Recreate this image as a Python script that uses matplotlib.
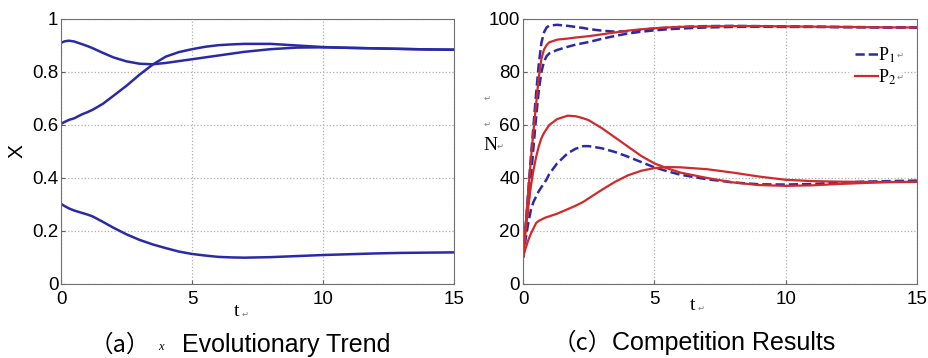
import numpy as np
import matplotlib
matplotlib.use("Agg")
import matplotlib.pyplot as plt

plt.rcParams["font.family"] = ["Liberation Sans", "DejaVu Sans"]
plt.rcParams["mathtext.fontset"] = "stix"

# panel (a): x evolutionary trend, three initial values
ta = [0, 0.15, 0.3, 0.5, 0.8, 1.0, 1.2, 1.6, 2.0, 2.5, 3.0, 3.5, 4.0, 4.5,
      5, 5.5, 6, 6.5, 7, 8, 9, 10, 11, 12, 13, 14, 15]
xa1 = [.910, .916, .918, .915, .905, .898, .890, .872, .855, .840, .831, .829, .834, .841,
       .848, .855, .862, .869, .876, .886, .892, .893, .891, .889, .887, .885, .884]
xa2 = [.604, .612, .619, .625, .640, .648, .657, .680, .710, .748, .790, .828, .858, .875,
       .886, .895, .901, .904, .906, .906, .900, .894, .891, .889, .887, .885, .884]
xa3 = [.302, .293, .285, .277, .268, .262, .255, .234, .212, .187, .166, .149, .135, .122,
       .113, .107, .102, .100, .099, .101, .105, .109, .112, .115, .117, .118, .119]

# panel (c): competition results, P1 (dashed blue) and P2 (red)
tc = [0, 0.1, 0.2, 0.3, 0.4, 0.5, 0.6, 0.7, 0.8, 0.9, 1.0, 1.3, 1.7, 2.0, 2.3, 2.5,
      3, 3.5, 4, 4.5, 5, 5.5, 6, 7, 8, 9, 10, 11, 12, 13, 14, 15]
p1_a = [10, 22, 35, 48, 60, 72, 83, 91, 95, 96.8, 97.5, 97.8, 97.4, 97, 96.6, 96.2,
        95.6, 95.2, 95.4, 95.9, 96.4, 96.7, 97, 97.3, 97.4, 97.3, 97.2, 97.1, 97, 96.9, 96.8, 96.8]
p1_b = [10, 20, 30, 40, 52, 63, 73, 80, 84, 86, 87, 88.3, 89.5, 90.3, 90.9, 91.3,
        92.5, 93.6, 94.5, 95.2, 95.7, 96.1, 96.4, 96.8, 97, 97.1, 97, 97, 96.9, 96.9, 96.8, 96.8]
p1_c = [10, 17, 23, 28, 31, 33, 35, 36.5, 38, 39.5, 41.5, 45.5, 49.3, 51, 52, 52,
        51.2, 49.8, 48, 46, 44, 42.5, 41.2, 39.5, 38.3, 37.6, 37.5, 37.7, 38.2, 38.6, 38.8, 39]
p2_a = [10, 22, 35, 47, 58, 68, 78, 85, 88.5, 90.2, 91.2, 92.2, 92.6, 93, 93.3, 93.5,
        94.2, 94.9, 95.6, 96.1, 96.5, 96.8, 97, 97.2, 97.3, 97.3, 97.2, 97.1, 97, 96.9, 96.8, 96.8]
p2_b = [10, 20, 29, 37, 43, 48, 52, 55, 57, 58.5, 60, 62.2, 63.5, 63.3, 62.5, 61.8,
        58.8, 55.3, 51.8, 48.3, 45.5, 43.6, 42, 40, 38.3, 37.3, 37, 37.2, 37.7, 38.1, 38.4, 38.5]
p2_c = [10, 13.5, 16.5, 19, 21, 23, 23.8, 24.3, 24.8, 25.2, 25.5, 26.5, 28.2, 29.5, 31, 32.3,
        35.5, 38.5, 41, 42.7, 43.7, 44.1, 44, 43.3, 42, 40.5, 39.3, 38.8, 38.6, 38.5, 38.5, 38.5]

blue = "#2a2aa8"
red = "#d02a2a"
grid_kw = dict(color="#b0b0b0", linestyle=":", linewidth=0.9)

fig = plt.figure(figsize=(9.29, 3.58), dpi=100)
ax1 = fig.add_axes([0.0657, 0.207, 0.423, 0.740])
ax2 = fig.add_axes([0.563, 0.207, 0.424, 0.740])

for y in (xa1, xa2, xa3):
    ax1.plot(ta, y, color=blue, linewidth=1.8)

ax1.set_xlim(0, 15)
ax1.set_ylim(0, 1)
ax1.set_xticks([0, 5, 10, 15])
ax1.set_yticks([0, 0.2, 0.4, 0.6, 0.8, 1])
ax1.set_yticklabels(["0", "0.2", "0.4", "0.6", "0.8", "1"])
ax1.set_ylabel("X", fontsize=15, labelpad=4)

ax2.plot(tc, p1_a, color=blue, linestyle="--", linewidth=1.8, label="P$_1$")
ax2.plot(tc, p1_b, color=blue, linestyle="--", linewidth=1.8)
ax2.plot(tc, p1_c, color=blue, linestyle="--", linewidth=1.8)
ax2.plot(tc, p2_a, color=red, linewidth=1.6, label="P$_2$")
ax2.plot(tc, p2_b, color=red, linewidth=1.6)
ax2.plot(tc, p2_c, color=red, linewidth=1.6)

ax2.set_xlim(0, 15)
ax2.set_ylim(0, 100)
ax2.set_xticks([0, 5, 10, 15])
ax2.set_yticks([0, 20, 40, 60, 80, 100])

for ax in (ax1, ax2):
    ax.grid(True, **grid_kw)
    ax.tick_params(direction="in", length=3, labelsize=13.5, color="#606060")
    ax.tick_params(axis="x", pad=5)
    ax.tick_params(axis="y", pad=2)
    for s in ax.spines.values():
        s.set_color("#707070")
        s.set_linewidth(0.8)

leg = ax2.legend(loc="upper right", bbox_to_anchor=(0.985, 0.955), frameon=True,
                 handlelength=1.3, handletextpad=0.0, borderpad=0.3,
                 labelspacing=0.15, prop={"family": "Liberation Serif", "size": 13})
leg.get_frame().set_edgecolor("none")
leg.get_frame().set_facecolor("white")

# stray text labels placed like in the source figure
serif = ["Liberation Serif", "DejaVu Sans"]
ret = dict(fontsize=6, color="#808080", ha="center", va="center", family="DejaVu Sans")
fig.text(237 / 929, 1 - 312 / 358, "t", fontsize=14, family=serif, ha="center", va="center")
fig.text(245 / 929, 1 - 314 / 358, "↵", **ret)
fig.text(693 / 929, 1 - 306 / 358, "t", fontsize=14, family=serif, ha="center", va="center")
fig.text(701 / 929, 1 - 308 / 358, "↵", **ret)
fig.text(490 / 929, 1 - 145 / 358, "N", fontsize=14, family=serif, ha="center", va="center")
fig.text(500 / 929, 1 - 146 / 358, "↵", **ret)
fig.text(487 / 929, 1 - 98 / 358, "↵", **ret)
fig.text(487 / 929, 1 - 124 / 358, "↵", **ret)
fig.text(900 / 929, 1 - 55 / 358, "↵", **ret)
fig.text(900 / 929, 1 - 77 / 358, "↵", **ret)

cjk = ["Noto Sans CJK SC", "DejaVu Sans"]
fig.text(150 / 929, 1 - 345 / 358, "（a）", fontsize=17, family=cjk, ha="right", va="center")
fig.text(161 / 929, 1 - 347 / 358, "x", fontsize=9, family=serif, style="italic", ha="center", va="center")
fig.text(182 / 929, 1 - 345 / 358, "Evolutionary Trend", fontsize=18, ha="left", va="center")
fig.text(612 / 929, 1 - 343 / 358, "（c）", fontsize=17, family=cjk, ha="right", va="center")
fig.text(612 / 929, 1 - 343 / 358, "Competition Results", fontsize=18, ha="left", va="center")

fig.savefig("out.png", dpi=100)
